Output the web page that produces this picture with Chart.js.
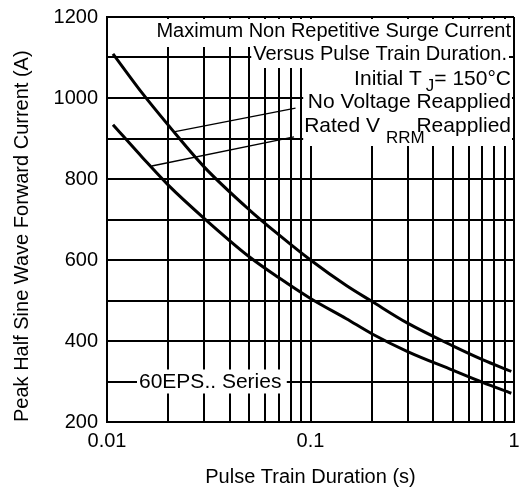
<!DOCTYPE html>
<html>
<head>
<meta charset="utf-8">
<title>Maximum Non Repetitive Surge Current</title>
<script src="https://cdn.jsdelivr.net/npm/chart.js@4.4.0/dist/chart.umd.min.js"></script>
<style>
  html, body { margin: 0; padding: 0; background: #fff; }
  canvas { display: block; }
</style>
</head>
<body>
<canvas id="chart" width="526" height="491"></canvas>
<script>
// values (pulse train duration in s, current in A)
const durations = [0.0107, 0.015, 0.02, 0.03, 0.05, 0.07, 0.1, 0.15, 0.2, 0.3, 0.5, 0.7, 0.97];
const noVoltage = [1109, 1010, 933, 830, 724, 662, 600, 537, 498, 444, 388, 354, 325];
const ratedVrrm = [934, 852, 785, 703, 608, 556, 505, 455, 418, 374, 328, 298, 271];

// leader lines from the curves to their labels
const leaderNoVoltage = [[0.0216, 917], [0.0844, 975]];
const leaderRated = [[0.0166, 832], [0.083, 904]];

// axes
const xGrid = [0.01, 0.02, 0.03, 0.04, 0.05, 0.06, 0.07, 0.08, 0.09,
               0.1, 0.2, 0.3, 0.4, 0.5, 0.6, 0.7, 0.8, 0.9, 1];
const xTickLabels = { '0.01': '0.01', '0.1': '0.1', '1': '1' };
const yMin = 200, yMax = 1200, yGridStep = 100, yLabelStep = 200;

const titleLines = ['Maximum Non Repetitive Surge Current', 'Versus Pulse Train Duration.'];
const seriesLabel = '60EPS.. Series';

const FONT = '"Liberation Sans", Arial, Helvetica, sans-serif';

function pts(xs, ys) {
  return xs.map((v, i) => ({ x: v, y: ys[i] }));
}

const notes = {
  id: 'notes',
  beforeDatasetsDraw(chart) {
    const { ctx, chartArea: ca, scales } = chart;
    const xs = scales.x, ys = scales.y;
    const R = ca.right, T = ca.top;
    ctx.save();

    // white boxes behind the texts
    ctx.fillStyle = '#fff';
    const bA = ca.left + 43;
    ctx.fillRect(bA, T + 2, R - 2 - bA, 28);
    const bB = xs.getPixelForValue(0.05) + 2;
    ctx.fillRect(bB, T + 29, R - 5 - bB, 22);
    const bC = xs.getPixelForValue(0.09) + 2;
    ctx.fillRect(bC, T + 50, R - 2 - bC, 79);
    const y300 = ys.getPixelForValue(300);
    const bD = ca.left + 30;
    ctx.fillRect(bD, y300 - 12, xs.getPixelForValue(0.08) - 4 - bD, 24);

    ctx.fillStyle = '#000';
    ctx.textBaseline = 'alphabetic';
    ctx.font = '20px ' + FONT;
    ctx.textAlign = 'right';
    ctx.fillText(titleLines[0], R - 3, T + 20);
    ctx.fillText(titleLines[1], R - 7, T + 43);

    // Initial TJ = 150°C
    ctx.font = '21px ' + FONT;
    let x = R - 3;
    ctx.fillText('= 150°C', x, T + 68);
    x -= ctx.measureText('= 150°C').width;
    ctx.font = '17px ' + FONT;
    ctx.fillText('J', x, T + 74);
    x -= ctx.measureText('J').width + 4;
    ctx.font = '21px ' + FONT;
    ctx.fillText('Initial T', x, T + 68);

    ctx.fillText('No Voltage Reapplied', R - 3, T + 91);

    // Rated VRRM Reapplied
    ctx.fillText('Reapplied', R - 3, T + 115);
    ctx.textAlign = 'left';
    ctx.fillText('Rated V', bC + 1, T + 115);
    const subX = bC + 1 + ctx.measureText('Rated V').width + 6;
    ctx.font = '17px ' + FONT;
    ctx.fillText('RRM', subX, T + 126);

    ctx.font = '21px ' + FONT;
    ctx.textBaseline = 'middle';
    ctx.fillText(seriesLabel, bD + 2, y300 + 1);
    ctx.restore();
  }
};

const curveStyle = {
  borderColor: '#000', borderWidth: 3, pointRadius: 0, tension: 0.4,
  cubicInterpolationMode: 'monotone', fill: false
};
const leaderStyle = {
  borderColor: '#000', borderWidth: 1.5, pointRadius: 0, tension: 0, fill: false
};

new Chart(document.getElementById('chart'), {
  type: 'line',
  data: {
    datasets: [
      Object.assign({ label: 'No Voltage Reapplied', data: pts(durations, noVoltage) }, curveStyle),
      Object.assign({ label: 'Rated VRRM Reapplied', data: pts(durations, ratedVrrm) }, curveStyle),
      Object.assign({ label: 'leader1', data: leaderNoVoltage.map(p => ({ x: p[0], y: p[1] })) }, leaderStyle),
      Object.assign({ label: 'leader2', data: leaderRated.map(p => ({ x: p[0], y: p[1] })) }, leaderStyle)
    ]
  },
  options: {
    responsive: false,
    animation: false,
    layout: { padding: { top: 17, right: 12, bottom: 0, left: 0 } },
    plugins: { legend: { display: false }, tooltip: { enabled: false } },
    scales: {
      x: {
        type: 'logarithmic',
        min: 0.01, max: 1,
        afterBuildTicks: s => { s.ticks = xGrid.map(v => ({ value: v })); },
        afterFit: s => { s.height = 69; s.paddingLeft = 0; s.paddingRight = 0; },
        grid: { color: '#000', lineWidth: 2, drawTicks: false },
        border: { color: '#000', width: 2 },
        ticks: {
          autoSkip: false, maxRotation: 0, padding: 7, color: '#000',
          font: { size: 20, family: FONT },
          callback: v => xTickLabels[String(v)] || ''
        },
        title: {
          display: true, text: 'Pulse Train Duration (s)', color: '#000',
          font: { size: 20, family: FONT }, padding: { top: 0, bottom: 2 }
        }
      },
      y: {
        min: yMin, max: yMax,
        afterFit: s => { s.width = 107; s.paddingTop = 0; s.paddingBottom = 0; },
        grid: { color: '#000', lineWidth: 2, drawTicks: false },
        border: { color: '#000', width: 2 },
        ticks: {
          stepSize: yGridStep, padding: 9, color: '#000',
          font: { size: 20, family: FONT },
          callback: v => (v % yLabelStep === 0 ? String(v) : '')
        },
        title: {
          display: true, align: 'start', text: 'Peak Half Sine Wave Forward Current (A)', color: '#000',
          font: { size: 20, family: FONT }, padding: { top: 10, bottom: 0 }
        }
      }
    }
  },
  plugins: [notes]
});
</script>
</body>
</html>
